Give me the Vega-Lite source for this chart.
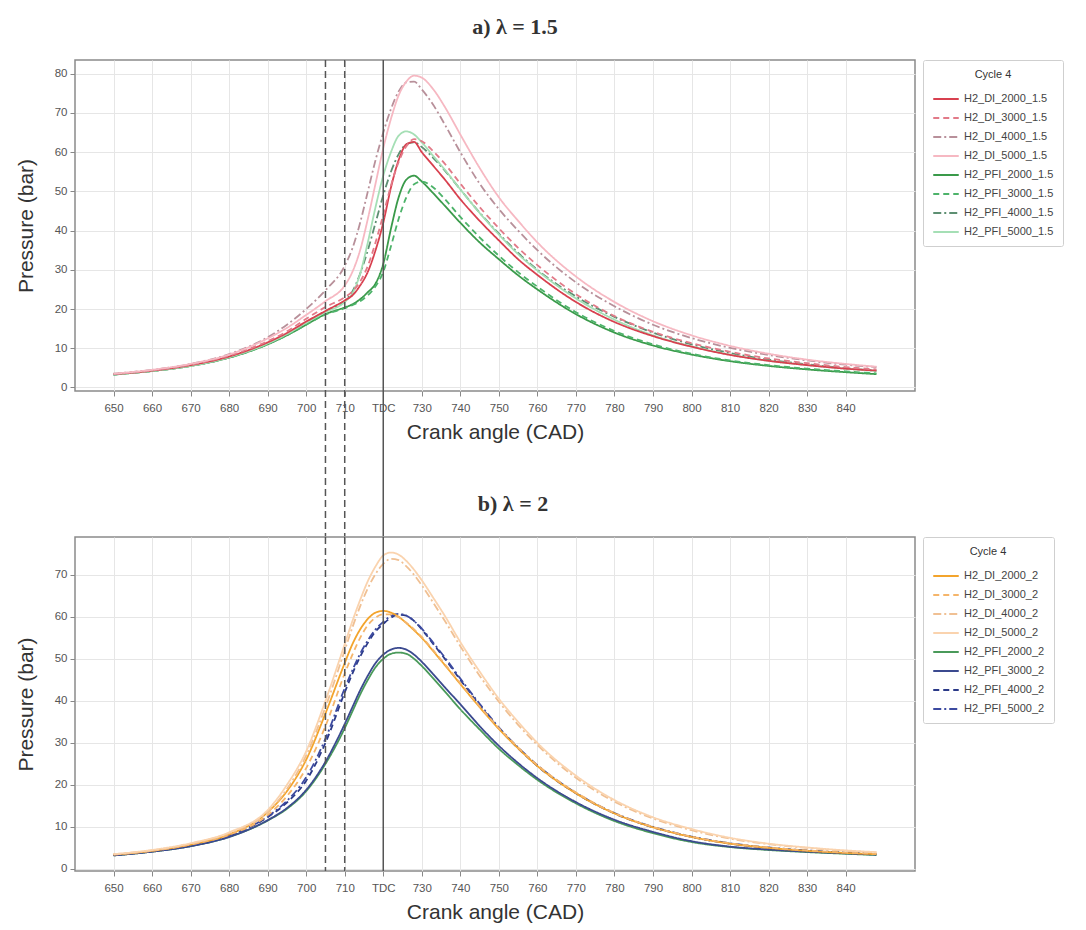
{
"$schema": "https://vega.github.io/schema/vega-lite/v6.json",
"background": "white",
"padding": {"left": 14, "top": 15, "right": 4, "bottom": 4},
"spacing": 146,
"bounds": "flush",
"config": {
  "font": "Liberation Sans",
  "view": {"stroke": "#8a8a8a", "strokeWidth": 1.5},
  "axis": {"grid": true, "gridColor": "#e6e6e6", "gridWidth": 1, "domain": false, "tickColor": "#888", "tickSize": 5, "labelColor": "#555", "labelFontSize": 11.5, "labelPadding": 3, "titleFontSize": 21, "titleFontWeight": "normal", "titleColor": "#333", "titlePadding": 8},
  "axisX": {"labelPadding": 6},
  "axisY": {"titlePadding": 18},
  "legend": {"strokeColor": "#cfcfcf", "padding": 9, "cornerRadius": 2, "symbolType": "stroke", "symbolSize": 650, "symbolStrokeWidth": 2, "labelFontSize": 11, "labelColor": "#444", "titleFontSize": 11, "titleFontWeight": "normal", "titleColor": "#333", "titleAnchor": "middle", "rowPadding": 0, "offset": 8},
  "title": {"font": "Liberation Serif", "fontSize": 22, "fontWeight": "bold", "color": "#333", "offset": 20}
},
"resolve": {"scale": {"color": "independent", "strokeDash": "independent"}},
"datasets": {
"top": [
{"series":"H2_PFI_2000_1.5","cad":650,"pressure":3.3},{"series":"H2_PFI_2000_1.5","cad":660,"pressure":4.2},{"series":"H2_PFI_2000_1.5","cad":670,"pressure":5.5},{"series":"H2_PFI_2000_1.5","cad":680,"pressure":7.6},{"series":"H2_PFI_2000_1.5","cad":690,"pressure":11.0},{"series":"H2_PFI_2000_1.5","cad":695,"pressure":13.3},{"series":"H2_PFI_2000_1.5","cad":700,"pressure":16.0},{"series":"H2_PFI_2000_1.5","cad":705,"pressure":18.7},{"series":"H2_PFI_2000_1.5","cad":710,"pressure":20.4},{"series":"H2_PFI_2000_1.5","cad":712,"pressure":21.2},{"series":"H2_PFI_2000_1.5","cad":714,"pressure":22.5},{"series":"H2_PFI_2000_1.5","cad":716,"pressure":24.3},{"series":"H2_PFI_2000_1.5","cad":718,"pressure":26.5},{"series":"H2_PFI_2000_1.5","cad":720,"pressure":31.5},{"series":"H2_PFI_2000_1.5","cad":722,"pressure":40.5},{"series":"H2_PFI_2000_1.5","cad":724,"pressure":48.5},{"series":"H2_PFI_2000_1.5","cad":726,"pressure":53},{"series":"H2_PFI_2000_1.5","cad":728,"pressure":54},{"series":"H2_PFI_2000_1.5","cad":730,"pressure":52.5},{"series":"H2_PFI_2000_1.5","cad":733,"pressure":49.5},{"series":"H2_PFI_2000_1.5","cad":736,"pressure":46.3},{"series":"H2_PFI_2000_1.5","cad":740,"pressure":42},{"series":"H2_PFI_2000_1.5","cad":745,"pressure":37},{"series":"H2_PFI_2000_1.5","cad":750,"pressure":32.7},{"series":"H2_PFI_2000_1.5","cad":755,"pressure":28.6},{"series":"H2_PFI_2000_1.5","cad":760,"pressure":25},{"series":"H2_PFI_2000_1.5","cad":770,"pressure":18.7},{"series":"H2_PFI_2000_1.5","cad":780,"pressure":14},{"series":"H2_PFI_2000_1.5","cad":790,"pressure":10.7},{"series":"H2_PFI_2000_1.5","cad":800,"pressure":8.4},{"series":"H2_PFI_2000_1.5","cad":810,"pressure":6.7},{"series":"H2_PFI_2000_1.5","cad":820,"pressure":5.5},{"series":"H2_PFI_2000_1.5","cad":830,"pressure":4.6},{"series":"H2_PFI_2000_1.5","cad":840,"pressure":3.9},{"series":"H2_PFI_2000_1.5","cad":848,"pressure":3.4},
{"series":"H2_PFI_3000_1.5","cad":650,"pressure":3.3},{"series":"H2_PFI_3000_1.5","cad":660,"pressure":4.2},{"series":"H2_PFI_3000_1.5","cad":670,"pressure":5.5},{"series":"H2_PFI_3000_1.5","cad":680,"pressure":7.6},{"series":"H2_PFI_3000_1.5","cad":690,"pressure":11.0},{"series":"H2_PFI_3000_1.5","cad":695,"pressure":13.3},{"series":"H2_PFI_3000_1.5","cad":700,"pressure":16.0},{"series":"H2_PFI_3000_1.5","cad":705,"pressure":18.6},{"series":"H2_PFI_3000_1.5","cad":710,"pressure":20.2},{"series":"H2_PFI_3000_1.5","cad":712,"pressure":21.0},{"series":"H2_PFI_3000_1.5","cad":714,"pressure":22.0},{"series":"H2_PFI_3000_1.5","cad":716,"pressure":23.5},{"series":"H2_PFI_3000_1.5","cad":718,"pressure":25.8},{"series":"H2_PFI_3000_1.5","cad":720,"pressure":29.5},{"series":"H2_PFI_3000_1.5","cad":722,"pressure":36},{"series":"H2_PFI_3000_1.5","cad":724,"pressure":43},{"series":"H2_PFI_3000_1.5","cad":726,"pressure":48.5},{"series":"H2_PFI_3000_1.5","cad":728,"pressure":51.8},{"series":"H2_PFI_3000_1.5","cad":730,"pressure":52.5},{"series":"H2_PFI_3000_1.5","cad":733,"pressure":51},{"series":"H2_PFI_3000_1.5","cad":736,"pressure":48},{"series":"H2_PFI_3000_1.5","cad":740,"pressure":43.5},{"series":"H2_PFI_3000_1.5","cad":745,"pressure":38.3},{"series":"H2_PFI_3000_1.5","cad":750,"pressure":33.6},{"series":"H2_PFI_3000_1.5","cad":755,"pressure":29.4},{"series":"H2_PFI_3000_1.5","cad":760,"pressure":25.7},{"series":"H2_PFI_3000_1.5","cad":770,"pressure":19.2},{"series":"H2_PFI_3000_1.5","cad":780,"pressure":14.4},{"series":"H2_PFI_3000_1.5","cad":790,"pressure":11},{"series":"H2_PFI_3000_1.5","cad":800,"pressure":8.6},{"series":"H2_PFI_3000_1.5","cad":810,"pressure":6.9},{"series":"H2_PFI_3000_1.5","cad":820,"pressure":5.7},{"series":"H2_PFI_3000_1.5","cad":830,"pressure":4.8},{"series":"H2_PFI_3000_1.5","cad":840,"pressure":4.1},{"series":"H2_PFI_3000_1.5","cad":848,"pressure":3.6},
{"series":"H2_PFI_4000_1.5","cad":650,"pressure":3.3},{"series":"H2_PFI_4000_1.5","cad":660,"pressure":4.2},{"series":"H2_PFI_4000_1.5","cad":670,"pressure":5.5},{"series":"H2_PFI_4000_1.5","cad":680,"pressure":7.7},{"series":"H2_PFI_4000_1.5","cad":690,"pressure":11.2},{"series":"H2_PFI_4000_1.5","cad":695,"pressure":13.6},{"series":"H2_PFI_4000_1.5","cad":700,"pressure":16.5},{"series":"H2_PFI_4000_1.5","cad":705,"pressure":19.5},{"series":"H2_PFI_4000_1.5","cad":710,"pressure":22},{"series":"H2_PFI_4000_1.5","cad":712,"pressure":24.5},{"series":"H2_PFI_4000_1.5","cad":714,"pressure":29},{"series":"H2_PFI_4000_1.5","cad":716,"pressure":35},{"series":"H2_PFI_4000_1.5","cad":718,"pressure":42},{"series":"H2_PFI_4000_1.5","cad":720,"pressure":49},{"series":"H2_PFI_4000_1.5","cad":722,"pressure":55},{"series":"H2_PFI_4000_1.5","cad":724,"pressure":59.5},{"series":"H2_PFI_4000_1.5","cad":726,"pressure":62},{"series":"H2_PFI_4000_1.5","cad":728,"pressure":62.5},{"series":"H2_PFI_4000_1.5","cad":730,"pressure":61.3},{"series":"H2_PFI_4000_1.5","cad":733,"pressure":58.5},{"series":"H2_PFI_4000_1.5","cad":736,"pressure":55.3},{"series":"H2_PFI_4000_1.5","cad":740,"pressure":50.5},{"series":"H2_PFI_4000_1.5","cad":745,"pressure":44.6},{"series":"H2_PFI_4000_1.5","cad":750,"pressure":39.2},{"series":"H2_PFI_4000_1.5","cad":755,"pressure":34.3},{"series":"H2_PFI_4000_1.5","cad":760,"pressure":30},{"series":"H2_PFI_4000_1.5","cad":770,"pressure":23.2},{"series":"H2_PFI_4000_1.5","cad":780,"pressure":18},{"series":"H2_PFI_4000_1.5","cad":790,"pressure":14},{"series":"H2_PFI_4000_1.5","cad":800,"pressure":11},{"series":"H2_PFI_4000_1.5","cad":810,"pressure":8.8},{"series":"H2_PFI_4000_1.5","cad":820,"pressure":7.1},{"series":"H2_PFI_4000_1.5","cad":830,"pressure":5.9},{"series":"H2_PFI_4000_1.5","cad":840,"pressure":4.9},{"series":"H2_PFI_4000_1.5","cad":848,"pressure":4.3},
{"series":"H2_PFI_5000_1.5","cad":650,"pressure":3.3},{"series":"H2_PFI_5000_1.5","cad":660,"pressure":4.2},{"series":"H2_PFI_5000_1.5","cad":670,"pressure":5.5},{"series":"H2_PFI_5000_1.5","cad":680,"pressure":7.7},{"series":"H2_PFI_5000_1.5","cad":690,"pressure":11.2},{"series":"H2_PFI_5000_1.5","cad":695,"pressure":13.6},{"series":"H2_PFI_5000_1.5","cad":700,"pressure":16.5},{"series":"H2_PFI_5000_1.5","cad":705,"pressure":19.2},{"series":"H2_PFI_5000_1.5","cad":710,"pressure":21.8},{"series":"H2_PFI_5000_1.5","cad":712,"pressure":24},{"series":"H2_PFI_5000_1.5","cad":714,"pressure":29},{"series":"H2_PFI_5000_1.5","cad":716,"pressure":37},{"series":"H2_PFI_5000_1.5","cad":718,"pressure":46},{"series":"H2_PFI_5000_1.5","cad":720,"pressure":54},{"series":"H2_PFI_5000_1.5","cad":722,"pressure":60},{"series":"H2_PFI_5000_1.5","cad":724,"pressure":64.2},{"series":"H2_PFI_5000_1.5","cad":726,"pressure":65.3},{"series":"H2_PFI_5000_1.5","cad":728,"pressure":64.5},{"series":"H2_PFI_5000_1.5","cad":730,"pressure":62.5},{"series":"H2_PFI_5000_1.5","cad":733,"pressure":59},{"series":"H2_PFI_5000_1.5","cad":736,"pressure":55.5},{"series":"H2_PFI_5000_1.5","cad":740,"pressure":50.5},{"series":"H2_PFI_5000_1.5","cad":745,"pressure":44.5},{"series":"H2_PFI_5000_1.5","cad":750,"pressure":39},{"series":"H2_PFI_5000_1.5","cad":755,"pressure":34},{"series":"H2_PFI_5000_1.5","cad":760,"pressure":29.8},{"series":"H2_PFI_5000_1.5","cad":770,"pressure":22.7},{"series":"H2_PFI_5000_1.5","cad":780,"pressure":17.3},{"series":"H2_PFI_5000_1.5","cad":790,"pressure":13.3},{"series":"H2_PFI_5000_1.5","cad":800,"pressure":10.5},{"series":"H2_PFI_5000_1.5","cad":810,"pressure":8.4},{"series":"H2_PFI_5000_1.5","cad":820,"pressure":6.8},{"series":"H2_PFI_5000_1.5","cad":830,"pressure":5.7},{"series":"H2_PFI_5000_1.5","cad":840,"pressure":4.8},{"series":"H2_PFI_5000_1.5","cad":848,"pressure":4.2},
{"series":"H2_DI_2000_1.5","cad":650,"pressure":3.4},{"series":"H2_DI_2000_1.5","cad":660,"pressure":4.3},{"series":"H2_DI_2000_1.5","cad":670,"pressure":5.7},{"series":"H2_DI_2000_1.5","cad":680,"pressure":7.9},{"series":"H2_DI_2000_1.5","cad":690,"pressure":11.5},{"series":"H2_DI_2000_1.5","cad":695,"pressure":13.9},{"series":"H2_DI_2000_1.5","cad":700,"pressure":16.8},{"series":"H2_DI_2000_1.5","cad":705,"pressure":19.5},{"series":"H2_DI_2000_1.5","cad":710,"pressure":22.2},{"series":"H2_DI_2000_1.5","cad":712,"pressure":23.5},{"series":"H2_DI_2000_1.5","cad":714,"pressure":26},{"series":"H2_DI_2000_1.5","cad":716,"pressure":29.5},{"series":"H2_DI_2000_1.5","cad":718,"pressure":35},{"series":"H2_DI_2000_1.5","cad":720,"pressure":42},{"series":"H2_DI_2000_1.5","cad":722,"pressure":51},{"series":"H2_DI_2000_1.5","cad":724,"pressure":58},{"series":"H2_DI_2000_1.5","cad":726,"pressure":62},{"series":"H2_DI_2000_1.5","cad":728,"pressure":62.6},{"series":"H2_DI_2000_1.5","cad":730,"pressure":60},{"series":"H2_DI_2000_1.5","cad":733,"pressure":56.5},{"series":"H2_DI_2000_1.5","cad":736,"pressure":53},{"series":"H2_DI_2000_1.5","cad":740,"pressure":48},{"series":"H2_DI_2000_1.5","cad":745,"pressure":42.5},{"series":"H2_DI_2000_1.5","cad":750,"pressure":37.5},{"series":"H2_DI_2000_1.5","cad":755,"pressure":32.7},{"series":"H2_DI_2000_1.5","cad":760,"pressure":28.7},{"series":"H2_DI_2000_1.5","cad":770,"pressure":21.8},{"series":"H2_DI_2000_1.5","cad":780,"pressure":16.7},{"series":"H2_DI_2000_1.5","cad":790,"pressure":13.1},{"series":"H2_DI_2000_1.5","cad":800,"pressure":10.4},{"series":"H2_DI_2000_1.5","cad":810,"pressure":8.3},{"series":"H2_DI_2000_1.5","cad":820,"pressure":6.8},{"series":"H2_DI_2000_1.5","cad":830,"pressure":5.7},{"series":"H2_DI_2000_1.5","cad":840,"pressure":4.8},{"series":"H2_DI_2000_1.5","cad":848,"pressure":4.3},
{"series":"H2_DI_3000_1.5","cad":650,"pressure":3.4},{"series":"H2_DI_3000_1.5","cad":660,"pressure":4.3},{"series":"H2_DI_3000_1.5","cad":670,"pressure":5.8},{"series":"H2_DI_3000_1.5","cad":680,"pressure":8.1},{"series":"H2_DI_3000_1.5","cad":690,"pressure":11.8},{"series":"H2_DI_3000_1.5","cad":695,"pressure":14.3},{"series":"H2_DI_3000_1.5","cad":700,"pressure":17.5},{"series":"H2_DI_3000_1.5","cad":705,"pressure":20.5},{"series":"H2_DI_3000_1.5","cad":710,"pressure":23},{"series":"H2_DI_3000_1.5","cad":712,"pressure":24.5},{"series":"H2_DI_3000_1.5","cad":714,"pressure":27},{"series":"H2_DI_3000_1.5","cad":716,"pressure":31},{"series":"H2_DI_3000_1.5","cad":718,"pressure":37},{"series":"H2_DI_3000_1.5","cad":720,"pressure":44},{"series":"H2_DI_3000_1.5","cad":722,"pressure":51.5},{"series":"H2_DI_3000_1.5","cad":724,"pressure":57.5},{"series":"H2_DI_3000_1.5","cad":726,"pressure":61.5},{"series":"H2_DI_3000_1.5","cad":728,"pressure":63.3},{"series":"H2_DI_3000_1.5","cad":730,"pressure":62.8},{"series":"H2_DI_3000_1.5","cad":733,"pressure":60.2},{"series":"H2_DI_3000_1.5","cad":736,"pressure":57},{"series":"H2_DI_3000_1.5","cad":740,"pressure":52},{"series":"H2_DI_3000_1.5","cad":745,"pressure":46},{"series":"H2_DI_3000_1.5","cad":750,"pressure":40.6},{"series":"H2_DI_3000_1.5","cad":755,"pressure":35.6},{"series":"H2_DI_3000_1.5","cad":760,"pressure":31.2},{"series":"H2_DI_3000_1.5","cad":770,"pressure":23.8},{"series":"H2_DI_3000_1.5","cad":780,"pressure":18.2},{"series":"H2_DI_3000_1.5","cad":790,"pressure":14.2},{"series":"H2_DI_3000_1.5","cad":800,"pressure":11.3},{"series":"H2_DI_3000_1.5","cad":810,"pressure":9.1},{"series":"H2_DI_3000_1.5","cad":820,"pressure":7.4},{"series":"H2_DI_3000_1.5","cad":830,"pressure":6.2},{"series":"H2_DI_3000_1.5","cad":840,"pressure":5.2},{"series":"H2_DI_3000_1.5","cad":848,"pressure":4.6},
{"series":"H2_DI_4000_1.5","cad":650,"pressure":3.5},{"series":"H2_DI_4000_1.5","cad":660,"pressure":4.5},{"series":"H2_DI_4000_1.5","cad":670,"pressure":6.0},{"series":"H2_DI_4000_1.5","cad":680,"pressure":8.5},{"series":"H2_DI_4000_1.5","cad":690,"pressure":12.8},{"series":"H2_DI_4000_1.5","cad":695,"pressure":16.0},{"series":"H2_DI_4000_1.5","cad":700,"pressure":20.0},{"series":"H2_DI_4000_1.5","cad":705,"pressure":24.8},{"series":"H2_DI_4000_1.5","cad":710,"pressure":31},{"series":"H2_DI_4000_1.5","cad":712,"pressure":35.5},{"series":"H2_DI_4000_1.5","cad":714,"pressure":42},{"series":"H2_DI_4000_1.5","cad":716,"pressure":50},{"series":"H2_DI_4000_1.5","cad":718,"pressure":58},{"series":"H2_DI_4000_1.5","cad":720,"pressure":65},{"series":"H2_DI_4000_1.5","cad":722,"pressure":71},{"series":"H2_DI_4000_1.5","cad":724,"pressure":75.5},{"series":"H2_DI_4000_1.5","cad":726,"pressure":77.8},{"series":"H2_DI_4000_1.5","cad":728,"pressure":78},{"series":"H2_DI_4000_1.5","cad":730,"pressure":76},{"series":"H2_DI_4000_1.5","cad":733,"pressure":72},{"series":"H2_DI_4000_1.5","cad":736,"pressure":67},{"series":"H2_DI_4000_1.5","cad":740,"pressure":60},{"series":"H2_DI_4000_1.5","cad":745,"pressure":52},{"series":"H2_DI_4000_1.5","cad":750,"pressure":45.5},{"series":"H2_DI_4000_1.5","cad":755,"pressure":40},{"series":"H2_DI_4000_1.5","cad":760,"pressure":35},{"series":"H2_DI_4000_1.5","cad":770,"pressure":26.8},{"series":"H2_DI_4000_1.5","cad":780,"pressure":20.7},{"series":"H2_DI_4000_1.5","cad":790,"pressure":16},{"series":"H2_DI_4000_1.5","cad":800,"pressure":12.6},{"series":"H2_DI_4000_1.5","cad":810,"pressure":10.1},{"series":"H2_DI_4000_1.5","cad":820,"pressure":8.3},{"series":"H2_DI_4000_1.5","cad":830,"pressure":6.9},{"series":"H2_DI_4000_1.5","cad":840,"pressure":5.8},{"series":"H2_DI_4000_1.5","cad":848,"pressure":5.2},
{"series":"H2_DI_5000_1.5","cad":650,"pressure":3.5},{"series":"H2_DI_5000_1.5","cad":660,"pressure":4.5},{"series":"H2_DI_5000_1.5","cad":670,"pressure":6.0},{"series":"H2_DI_5000_1.5","cad":680,"pressure":8.4},{"series":"H2_DI_5000_1.5","cad":690,"pressure":12.5},{"series":"H2_DI_5000_1.5","cad":695,"pressure":15.2},{"series":"H2_DI_5000_1.5","cad":700,"pressure":18.5},{"series":"H2_DI_5000_1.5","cad":705,"pressure":22},{"series":"H2_DI_5000_1.5","cad":710,"pressure":26},{"series":"H2_DI_5000_1.5","cad":712,"pressure":29.5},{"series":"H2_DI_5000_1.5","cad":714,"pressure":35},{"series":"H2_DI_5000_1.5","cad":716,"pressure":43},{"series":"H2_DI_5000_1.5","cad":718,"pressure":52},{"series":"H2_DI_5000_1.5","cad":720,"pressure":61},{"series":"H2_DI_5000_1.5","cad":722,"pressure":68.5},{"series":"H2_DI_5000_1.5","cad":724,"pressure":74.5},{"series":"H2_DI_5000_1.5","cad":726,"pressure":78},{"series":"H2_DI_5000_1.5","cad":728,"pressure":79.5},{"series":"H2_DI_5000_1.5","cad":730,"pressure":79},{"series":"H2_DI_5000_1.5","cad":733,"pressure":76},{"series":"H2_DI_5000_1.5","cad":736,"pressure":71.5},{"series":"H2_DI_5000_1.5","cad":740,"pressure":64.5},{"series":"H2_DI_5000_1.5","cad":745,"pressure":56},{"series":"H2_DI_5000_1.5","cad":750,"pressure":48.5},{"series":"H2_DI_5000_1.5","cad":755,"pressure":42.5},{"series":"H2_DI_5000_1.5","cad":760,"pressure":37},{"series":"H2_DI_5000_1.5","cad":770,"pressure":28.3},{"series":"H2_DI_5000_1.5","cad":780,"pressure":21.8},{"series":"H2_DI_5000_1.5","cad":790,"pressure":16.9},{"series":"H2_DI_5000_1.5","cad":800,"pressure":13.3},{"series":"H2_DI_5000_1.5","cad":810,"pressure":10.6},{"series":"H2_DI_5000_1.5","cad":820,"pressure":8.6},{"series":"H2_DI_5000_1.5","cad":830,"pressure":7.1},{"series":"H2_DI_5000_1.5","cad":840,"pressure":6.0},{"series":"H2_DI_5000_1.5","cad":848,"pressure":5.3}
],
"bottom": [
{"series":"H2_PFI_2000_2","cad":650,"pressure":3.2},{"series":"H2_PFI_2000_2","cad":660,"pressure":4.1},{"series":"H2_PFI_2000_2","cad":670,"pressure":5.4},{"series":"H2_PFI_2000_2","cad":680,"pressure":7.6},{"series":"H2_PFI_2000_2","cad":690,"pressure":11.5},{"series":"H2_PFI_2000_2","cad":695,"pressure":14.3},{"series":"H2_PFI_2000_2","cad":700,"pressure":18.5},{"series":"H2_PFI_2000_2","cad":705,"pressure":25},{"series":"H2_PFI_2000_2","cad":710,"pressure":33.5},{"series":"H2_PFI_2000_2","cad":712,"pressure":37.5},{"series":"H2_PFI_2000_2","cad":714,"pressure":41.5},{"series":"H2_PFI_2000_2","cad":716,"pressure":45},{"series":"H2_PFI_2000_2","cad":718,"pressure":48},{"series":"H2_PFI_2000_2","cad":720,"pressure":50},{"series":"H2_PFI_2000_2","cad":722,"pressure":51.2},{"series":"H2_PFI_2000_2","cad":724,"pressure":51.5},{"series":"H2_PFI_2000_2","cad":726,"pressure":51.2},{"series":"H2_PFI_2000_2","cad":728,"pressure":50},{"series":"H2_PFI_2000_2","cad":730,"pressure":48.3},{"series":"H2_PFI_2000_2","cad":733,"pressure":45.3},{"series":"H2_PFI_2000_2","cad":736,"pressure":42.2},{"series":"H2_PFI_2000_2","cad":740,"pressure":38},{"series":"H2_PFI_2000_2","cad":745,"pressure":33.2},{"series":"H2_PFI_2000_2","cad":750,"pressure":28.6},{"series":"H2_PFI_2000_2","cad":755,"pressure":24.7},{"series":"H2_PFI_2000_2","cad":760,"pressure":21.2},{"series":"H2_PFI_2000_2","cad":770,"pressure":15.6},{"series":"H2_PFI_2000_2","cad":780,"pressure":11.4},{"series":"H2_PFI_2000_2","cad":790,"pressure":8.5},{"series":"H2_PFI_2000_2","cad":800,"pressure":6.4},{"series":"H2_PFI_2000_2","cad":810,"pressure":5.2},{"series":"H2_PFI_2000_2","cad":820,"pressure":4.5},{"series":"H2_PFI_2000_2","cad":830,"pressure":4.0},{"series":"H2_PFI_2000_2","cad":840,"pressure":3.6},{"series":"H2_PFI_2000_2","cad":848,"pressure":3.3},
{"series":"H2_PFI_3000_2","cad":650,"pressure":3.2},{"series":"H2_PFI_3000_2","cad":660,"pressure":4.1},{"series":"H2_PFI_3000_2","cad":670,"pressure":5.4},{"series":"H2_PFI_3000_2","cad":680,"pressure":7.6},{"series":"H2_PFI_3000_2","cad":690,"pressure":11.6},{"series":"H2_PFI_3000_2","cad":695,"pressure":14.5},{"series":"H2_PFI_3000_2","cad":700,"pressure":18.8},{"series":"H2_PFI_3000_2","cad":705,"pressure":25.5},{"series":"H2_PFI_3000_2","cad":710,"pressure":34.5},{"series":"H2_PFI_3000_2","cad":712,"pressure":38.5},{"series":"H2_PFI_3000_2","cad":714,"pressure":42.5},{"series":"H2_PFI_3000_2","cad":716,"pressure":46},{"series":"H2_PFI_3000_2","cad":718,"pressure":49},{"series":"H2_PFI_3000_2","cad":720,"pressure":51},{"series":"H2_PFI_3000_2","cad":722,"pressure":52.2},{"series":"H2_PFI_3000_2","cad":724,"pressure":52.6},{"series":"H2_PFI_3000_2","cad":726,"pressure":52.2},{"series":"H2_PFI_3000_2","cad":728,"pressure":51},{"series":"H2_PFI_3000_2","cad":730,"pressure":49.3},{"series":"H2_PFI_3000_2","cad":733,"pressure":46.3},{"series":"H2_PFI_3000_2","cad":736,"pressure":43.2},{"series":"H2_PFI_3000_2","cad":740,"pressure":39.2},{"series":"H2_PFI_3000_2","cad":745,"pressure":34},{"series":"H2_PFI_3000_2","cad":750,"pressure":29.3},{"series":"H2_PFI_3000_2","cad":755,"pressure":25.2},{"series":"H2_PFI_3000_2","cad":760,"pressure":21.6},{"series":"H2_PFI_3000_2","cad":770,"pressure":15.9},{"series":"H2_PFI_3000_2","cad":780,"pressure":11.7},{"series":"H2_PFI_3000_2","cad":790,"pressure":8.8},{"series":"H2_PFI_3000_2","cad":800,"pressure":6.6},{"series":"H2_PFI_3000_2","cad":810,"pressure":5.3},{"series":"H2_PFI_3000_2","cad":820,"pressure":4.6},{"series":"H2_PFI_3000_2","cad":830,"pressure":4.1},{"series":"H2_PFI_3000_2","cad":840,"pressure":3.7},{"series":"H2_PFI_3000_2","cad":848,"pressure":3.4},
{"series":"H2_PFI_4000_2","cad":650,"pressure":3.3},{"series":"H2_PFI_4000_2","cad":660,"pressure":4.2},{"series":"H2_PFI_4000_2","cad":670,"pressure":5.6},{"series":"H2_PFI_4000_2","cad":680,"pressure":7.9},{"series":"H2_PFI_4000_2","cad":690,"pressure":12.3},{"series":"H2_PFI_4000_2","cad":695,"pressure":15.8},{"series":"H2_PFI_4000_2","cad":700,"pressure":21},{"series":"H2_PFI_4000_2","cad":705,"pressure":30},{"series":"H2_PFI_4000_2","cad":710,"pressure":42},{"series":"H2_PFI_4000_2","cad":712,"pressure":46.5},{"series":"H2_PFI_4000_2","cad":714,"pressure":50.5},{"series":"H2_PFI_4000_2","cad":716,"pressure":53.8},{"series":"H2_PFI_4000_2","cad":718,"pressure":56.5},{"series":"H2_PFI_4000_2","cad":720,"pressure":58.3},{"series":"H2_PFI_4000_2","cad":722,"pressure":59.8},{"series":"H2_PFI_4000_2","cad":724,"pressure":60.5},{"series":"H2_PFI_4000_2","cad":726,"pressure":60.3},{"series":"H2_PFI_4000_2","cad":728,"pressure":59},{"series":"H2_PFI_4000_2","cad":730,"pressure":57},{"series":"H2_PFI_4000_2","cad":733,"pressure":53.5},{"series":"H2_PFI_4000_2","cad":736,"pressure":50},{"series":"H2_PFI_4000_2","cad":740,"pressure":45},{"series":"H2_PFI_4000_2","cad":745,"pressure":39},{"series":"H2_PFI_4000_2","cad":750,"pressure":33.5},{"series":"H2_PFI_4000_2","cad":755,"pressure":28.7},{"series":"H2_PFI_4000_2","cad":760,"pressure":24.5},{"series":"H2_PFI_4000_2","cad":770,"pressure":18},{"series":"H2_PFI_4000_2","cad":780,"pressure":13.2},{"series":"H2_PFI_4000_2","cad":790,"pressure":9.9},{"series":"H2_PFI_4000_2","cad":800,"pressure":7.6},{"series":"H2_PFI_4000_2","cad":810,"pressure":6.0},{"series":"H2_PFI_4000_2","cad":820,"pressure":5.0},{"series":"H2_PFI_4000_2","cad":830,"pressure":4.3},{"series":"H2_PFI_4000_2","cad":840,"pressure":3.8},{"series":"H2_PFI_4000_2","cad":848,"pressure":3.5},
{"series":"H2_PFI_5000_2","cad":650,"pressure":3.3},{"series":"H2_PFI_5000_2","cad":660,"pressure":4.2},{"series":"H2_PFI_5000_2","cad":670,"pressure":5.6},{"series":"H2_PFI_5000_2","cad":680,"pressure":7.9},{"series":"H2_PFI_5000_2","cad":690,"pressure":12.5},{"series":"H2_PFI_5000_2","cad":695,"pressure":16.2},{"series":"H2_PFI_5000_2","cad":700,"pressure":21.8},{"series":"H2_PFI_5000_2","cad":705,"pressure":31},{"series":"H2_PFI_5000_2","cad":710,"pressure":43},{"series":"H2_PFI_5000_2","cad":712,"pressure":47.3},{"series":"H2_PFI_5000_2","cad":714,"pressure":51.2},{"series":"H2_PFI_5000_2","cad":716,"pressure":54.4},{"series":"H2_PFI_5000_2","cad":718,"pressure":57},{"series":"H2_PFI_5000_2","cad":720,"pressure":58.8},{"series":"H2_PFI_5000_2","cad":722,"pressure":60.2},{"series":"H2_PFI_5000_2","cad":724,"pressure":60.7},{"series":"H2_PFI_5000_2","cad":726,"pressure":60.3},{"series":"H2_PFI_5000_2","cad":728,"pressure":59},{"series":"H2_PFI_5000_2","cad":730,"pressure":57.2},{"series":"H2_PFI_5000_2","cad":733,"pressure":53.8},{"series":"H2_PFI_5000_2","cad":736,"pressure":50.3},{"series":"H2_PFI_5000_2","cad":740,"pressure":45.3},{"series":"H2_PFI_5000_2","cad":745,"pressure":39.3},{"series":"H2_PFI_5000_2","cad":750,"pressure":33.7},{"series":"H2_PFI_5000_2","cad":755,"pressure":28.9},{"series":"H2_PFI_5000_2","cad":760,"pressure":24.7},{"series":"H2_PFI_5000_2","cad":770,"pressure":18.1},{"series":"H2_PFI_5000_2","cad":780,"pressure":13.3},{"series":"H2_PFI_5000_2","cad":790,"pressure":10},{"series":"H2_PFI_5000_2","cad":800,"pressure":7.7},{"series":"H2_PFI_5000_2","cad":810,"pressure":6.1},{"series":"H2_PFI_5000_2","cad":820,"pressure":5.1},{"series":"H2_PFI_5000_2","cad":830,"pressure":4.4},{"series":"H2_PFI_5000_2","cad":840,"pressure":3.9},{"series":"H2_PFI_5000_2","cad":848,"pressure":3.6},
{"series":"H2_DI_2000_2","cad":650,"pressure":3.4},{"series":"H2_DI_2000_2","cad":660,"pressure":4.3},{"series":"H2_DI_2000_2","cad":670,"pressure":5.8},{"series":"H2_DI_2000_2","cad":680,"pressure":8.2},{"series":"H2_DI_2000_2","cad":690,"pressure":13.5},{"series":"H2_DI_2000_2","cad":695,"pressure":18.5},{"series":"H2_DI_2000_2","cad":700,"pressure":26},{"series":"H2_DI_2000_2","cad":705,"pressure":37},{"series":"H2_DI_2000_2","cad":710,"pressure":49},{"series":"H2_DI_2000_2","cad":712,"pressure":53.5},{"series":"H2_DI_2000_2","cad":714,"pressure":57},{"series":"H2_DI_2000_2","cad":716,"pressure":59.5},{"series":"H2_DI_2000_2","cad":718,"pressure":61},{"series":"H2_DI_2000_2","cad":720,"pressure":61.4},{"series":"H2_DI_2000_2","cad":722,"pressure":61},{"series":"H2_DI_2000_2","cad":724,"pressure":60},{"series":"H2_DI_2000_2","cad":726,"pressure":58.5},{"series":"H2_DI_2000_2","cad":728,"pressure":56.8},{"series":"H2_DI_2000_2","cad":730,"pressure":55},{"series":"H2_DI_2000_2","cad":733,"pressure":51.8},{"series":"H2_DI_2000_2","cad":736,"pressure":48.5},{"series":"H2_DI_2000_2","cad":740,"pressure":44},{"series":"H2_DI_2000_2","cad":745,"pressure":38.5},{"series":"H2_DI_2000_2","cad":750,"pressure":33.3},{"series":"H2_DI_2000_2","cad":755,"pressure":28.7},{"series":"H2_DI_2000_2","cad":760,"pressure":24.5},{"series":"H2_DI_2000_2","cad":770,"pressure":18},{"series":"H2_DI_2000_2","cad":780,"pressure":13.2},{"series":"H2_DI_2000_2","cad":790,"pressure":9.9},{"series":"H2_DI_2000_2","cad":800,"pressure":7.6},{"series":"H2_DI_2000_2","cad":810,"pressure":6.0},{"series":"H2_DI_2000_2","cad":820,"pressure":5.0},{"series":"H2_DI_2000_2","cad":830,"pressure":4.3},{"series":"H2_DI_2000_2","cad":840,"pressure":3.8},{"series":"H2_DI_2000_2","cad":848,"pressure":3.5},
{"series":"H2_DI_3000_2","cad":650,"pressure":3.4},{"series":"H2_DI_3000_2","cad":660,"pressure":4.3},{"series":"H2_DI_3000_2","cad":670,"pressure":5.8},{"series":"H2_DI_3000_2","cad":680,"pressure":8.1},{"series":"H2_DI_3000_2","cad":690,"pressure":12.8},{"series":"H2_DI_3000_2","cad":695,"pressure":17.3},{"series":"H2_DI_3000_2","cad":700,"pressure":24},{"series":"H2_DI_3000_2","cad":705,"pressure":34},{"series":"H2_DI_3000_2","cad":710,"pressure":46.5},{"series":"H2_DI_3000_2","cad":712,"pressure":51},{"series":"H2_DI_3000_2","cad":714,"pressure":55},{"series":"H2_DI_3000_2","cad":716,"pressure":58},{"series":"H2_DI_3000_2","cad":718,"pressure":59.8},{"series":"H2_DI_3000_2","cad":720,"pressure":60.6},{"series":"H2_DI_3000_2","cad":722,"pressure":60.6},{"series":"H2_DI_3000_2","cad":724,"pressure":59.9},{"series":"H2_DI_3000_2","cad":726,"pressure":58.6},{"series":"H2_DI_3000_2","cad":728,"pressure":57},{"series":"H2_DI_3000_2","cad":730,"pressure":55.2},{"series":"H2_DI_3000_2","cad":733,"pressure":52},{"series":"H2_DI_3000_2","cad":736,"pressure":48.7},{"series":"H2_DI_3000_2","cad":740,"pressure":44.2},{"series":"H2_DI_3000_2","cad":745,"pressure":38.7},{"series":"H2_DI_3000_2","cad":750,"pressure":33.5},{"series":"H2_DI_3000_2","cad":755,"pressure":28.9},{"series":"H2_DI_3000_2","cad":760,"pressure":24.7},{"series":"H2_DI_3000_2","cad":770,"pressure":18.2},{"series":"H2_DI_3000_2","cad":780,"pressure":13.3},{"series":"H2_DI_3000_2","cad":790,"pressure":10},{"series":"H2_DI_3000_2","cad":800,"pressure":7.7},{"series":"H2_DI_3000_2","cad":810,"pressure":6.1},{"series":"H2_DI_3000_2","cad":820,"pressure":5.1},{"series":"H2_DI_3000_2","cad":830,"pressure":4.4},{"series":"H2_DI_3000_2","cad":840,"pressure":3.9},{"series":"H2_DI_3000_2","cad":848,"pressure":3.6},
{"series":"H2_DI_4000_2","cad":650,"pressure":3.5},{"series":"H2_DI_4000_2","cad":660,"pressure":4.4},{"series":"H2_DI_4000_2","cad":670,"pressure":6.0},{"series":"H2_DI_4000_2","cad":680,"pressure":8.5},{"series":"H2_DI_4000_2","cad":690,"pressure":13.5},{"series":"H2_DI_4000_2","cad":695,"pressure":19},{"series":"H2_DI_4000_2","cad":700,"pressure":27},{"series":"H2_DI_4000_2","cad":705,"pressure":38.5},{"series":"H2_DI_4000_2","cad":710,"pressure":52},{"series":"H2_DI_4000_2","cad":712,"pressure":57.5},{"series":"H2_DI_4000_2","cad":714,"pressure":62.5},{"series":"H2_DI_4000_2","cad":716,"pressure":66.8},{"series":"H2_DI_4000_2","cad":718,"pressure":70.2},{"series":"H2_DI_4000_2","cad":720,"pressure":72.6},{"series":"H2_DI_4000_2","cad":722,"pressure":73.8},{"series":"H2_DI_4000_2","cad":724,"pressure":73.5},{"series":"H2_DI_4000_2","cad":726,"pressure":72},{"series":"H2_DI_4000_2","cad":728,"pressure":70},{"series":"H2_DI_4000_2","cad":730,"pressure":67.5},{"series":"H2_DI_4000_2","cad":733,"pressure":63.3},{"series":"H2_DI_4000_2","cad":736,"pressure":59},{"series":"H2_DI_4000_2","cad":740,"pressure":53},{"series":"H2_DI_4000_2","cad":745,"pressure":46},{"series":"H2_DI_4000_2","cad":750,"pressure":39.8},{"series":"H2_DI_4000_2","cad":755,"pressure":34.3},{"series":"H2_DI_4000_2","cad":760,"pressure":29.5},{"series":"H2_DI_4000_2","cad":770,"pressure":21.7},{"series":"H2_DI_4000_2","cad":780,"pressure":16},{"series":"H2_DI_4000_2","cad":790,"pressure":12},{"series":"H2_DI_4000_2","cad":800,"pressure":9.2},{"series":"H2_DI_4000_2","cad":810,"pressure":7.2},{"series":"H2_DI_4000_2","cad":820,"pressure":5.9},{"series":"H2_DI_4000_2","cad":830,"pressure":5.0},{"series":"H2_DI_4000_2","cad":840,"pressure":4.3},{"series":"H2_DI_4000_2","cad":848,"pressure":3.9},
{"series":"H2_DI_5000_2","cad":650,"pressure":3.5},{"series":"H2_DI_5000_2","cad":660,"pressure":4.5},{"series":"H2_DI_5000_2","cad":670,"pressure":6.1},{"series":"H2_DI_5000_2","cad":680,"pressure":8.7},{"series":"H2_DI_5000_2","cad":690,"pressure":14},{"series":"H2_DI_5000_2","cad":695,"pressure":20},{"series":"H2_DI_5000_2","cad":700,"pressure":28},{"series":"H2_DI_5000_2","cad":705,"pressure":40},{"series":"H2_DI_5000_2","cad":710,"pressure":53.5},{"series":"H2_DI_5000_2","cad":712,"pressure":59},{"series":"H2_DI_5000_2","cad":714,"pressure":64},{"series":"H2_DI_5000_2","cad":716,"pressure":68.5},{"series":"H2_DI_5000_2","cad":718,"pressure":72},{"series":"H2_DI_5000_2","cad":720,"pressure":74.6},{"series":"H2_DI_5000_2","cad":722,"pressure":75.3},{"series":"H2_DI_5000_2","cad":724,"pressure":74.8},{"series":"H2_DI_5000_2","cad":726,"pressure":73.3},{"series":"H2_DI_5000_2","cad":728,"pressure":71.2},{"series":"H2_DI_5000_2","cad":730,"pressure":68.7},{"series":"H2_DI_5000_2","cad":733,"pressure":64.5},{"series":"H2_DI_5000_2","cad":736,"pressure":60.2},{"series":"H2_DI_5000_2","cad":740,"pressure":54},{"series":"H2_DI_5000_2","cad":745,"pressure":47},{"series":"H2_DI_5000_2","cad":750,"pressure":40.5},{"series":"H2_DI_5000_2","cad":755,"pressure":35},{"series":"H2_DI_5000_2","cad":760,"pressure":30},{"series":"H2_DI_5000_2","cad":770,"pressure":22.2},{"series":"H2_DI_5000_2","cad":780,"pressure":16.4},{"series":"H2_DI_5000_2","cad":790,"pressure":12.3},{"series":"H2_DI_5000_2","cad":800,"pressure":9.5},{"series":"H2_DI_5000_2","cad":810,"pressure":7.4},{"series":"H2_DI_5000_2","cad":820,"pressure":6.0},{"series":"H2_DI_5000_2","cad":830,"pressure":5.1},{"series":"H2_DI_5000_2","cad":840,"pressure":4.4},{"series":"H2_DI_5000_2","cad":848,"pressure":4.0}
]
},
"vconcat": [
{
  "width": 840, "height": 331,
  "title": {"text": "a) λ = 1.5", "dx": 20},
  "layer": [
    {"data": {"name": "top"},
     "mark": {"type": "line", "strokeWidth": 1.8, "interpolate": "monotone"},
     "encoding": {
       "x": {"field": "cad", "type": "quantitative", "scale": {"domain": [640, 858], "nice": false, "zero": false}, "axis": {"values": [650,660,670,680,690,700,710,720,730,740,750,760,770,780,790,800,810,820,830,840], "labelExpr": "datum.value == 720 ? 'TDC' : datum.label", "title": "Crank angle (CAD)"}},
       "y": {"field": "pressure", "type": "quantitative", "scale": {"domain": [-0.9, 83.5], "nice": false, "zero": false}, "axis": {"values": [0,10,20,30,40,50,60,70,80], "title": "Pressure (bar)"}},
       "color": {"field": "series", "type": "nominal", "title": "Cycle 4",
         "scale": {"domain": ["H2_DI_2000_1.5","H2_DI_3000_1.5","H2_DI_4000_1.5","H2_DI_5000_1.5","H2_PFI_2000_1.5","H2_PFI_3000_1.5","H2_PFI_4000_1.5","H2_PFI_5000_1.5"],
                   "range": ["#d8404f","#e27a88","#b8909a","#f6b8c2","#3a9a4a","#4db36a","#5d8f72","#a5dfb5"]}},
       "strokeDash": {"field": "series", "type": "nominal", "title": "Cycle 4",
         "scale": {"domain": ["H2_DI_2000_1.5","H2_DI_3000_1.5","H2_DI_4000_1.5","H2_DI_5000_1.5","H2_PFI_2000_1.5","H2_PFI_3000_1.5","H2_PFI_4000_1.5","H2_PFI_5000_1.5"],
                   "range": [[1,0],[6,4],[8,3,2,3],[1,0],[1,0],[6,4],[8,3,2,3],[1,0]]}}
     }},
    {"data": {"values": [{"cad": 705}, {"cad": 710}]},
     "mark": {"type": "rule", "strokeDash": [7, 4], "color": "#555", "strokeWidth": 1.5, "clip": false},
     "encoding": {"x": {"field": "cad", "type": "quantitative"}, "y": {"datum": 83.5}, "y2": {"datum": -38}}},
    {"data": {"values": [{"cad": 720}]},
     "mark": {"type": "rule", "color": "#555", "strokeWidth": 1.5, "clip": false},
     "encoding": {"x": {"field": "cad", "type": "quantitative"}, "y": {"datum": 83.5}, "y2": {"datum": -38}}}
  ]
},
{
  "width": 840, "height": 334,
  "title": {"text": "b) λ = 2", "dx": 18},
  "layer": [
    {"data": {"name": "bottom"},
     "mark": {"type": "line", "strokeWidth": 1.8, "interpolate": "monotone"},
     "encoding": {
       "x": {"field": "cad", "type": "quantitative", "scale": {"domain": [640, 858], "nice": false, "zero": false}, "axis": {"values": [650,660,670,680,690,700,710,720,730,740,750,760,770,780,790,800,810,820,830,840], "labelExpr": "datum.value == 720 ? 'TDC' : datum.label", "title": "Crank angle (CAD)"}},
       "y": {"field": "pressure", "type": "quantitative", "scale": {"domain": [-0.5, 79], "nice": false, "zero": false}, "axis": {"values": [0,10,20,30,40,50,60,70], "title": "Pressure (bar)"}},
       "color": {"field": "series", "type": "nominal", "title": "Cycle 4",
         "scale": {"domain": ["H2_DI_2000_2","H2_DI_3000_2","H2_DI_4000_2","H2_DI_5000_2","H2_PFI_2000_2","H2_PFI_3000_2","H2_PFI_4000_2","H2_PFI_5000_2"],
                   "range": ["#f3a42c","#f5b56a","#f0c093","#fad3ae","#4a9a5a","#3b4a8f","#2b3a88","#3c4aa0"]}},
       "strokeDash": {"field": "series", "type": "nominal", "title": "Cycle 4",
         "scale": {"domain": ["H2_DI_2000_2","H2_DI_3000_2","H2_DI_4000_2","H2_DI_5000_2","H2_PFI_2000_2","H2_PFI_3000_2","H2_PFI_4000_2","H2_PFI_5000_2"],
                   "range": [[1,0],[6,4],[8,3,2,3],[1,0],[1,0],[1,0],[6,4],[8,3,2,3]]}}
     }},
    {"data": {"values": [{"cad": 705}, {"cad": 710}]},
     "mark": {"type": "rule", "strokeDash": [7, 4], "color": "#555", "strokeWidth": 1.5},
     "encoding": {"x": {"field": "cad", "type": "quantitative"}, "y": {"datum": 79}, "y2": {"datum": -0.5}}},
    {"data": {"values": [{"cad": 720}]},
     "mark": {"type": "rule", "color": "#555", "strokeWidth": 1.5},
     "encoding": {"x": {"field": "cad", "type": "quantitative"}, "y": {"datum": 79}, "y2": {"datum": -0.5}}}
  ]
}
]
}
